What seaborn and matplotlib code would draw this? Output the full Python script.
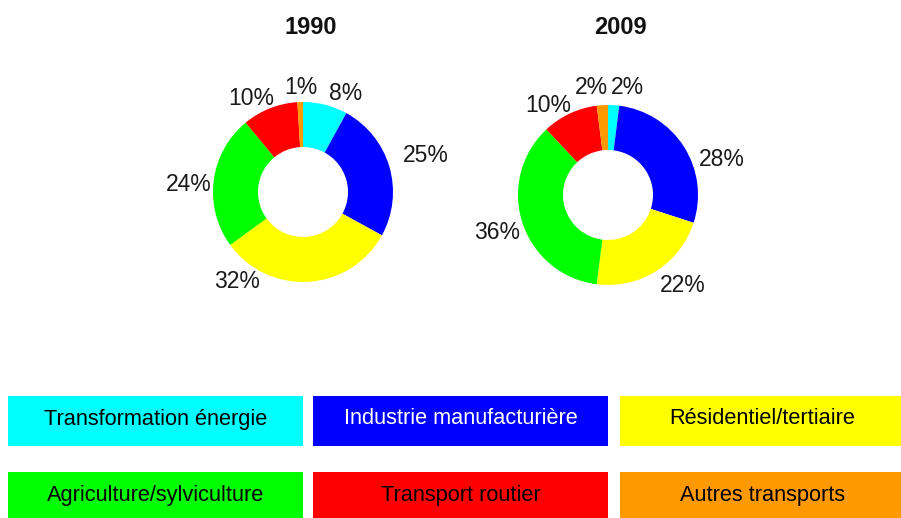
import seaborn as sns
import matplotlib
matplotlib.use("Agg")
from matplotlib import pyplot as plt
from matplotlib.patches import Rectangle

# data
sectors = ["Transformation énergie", "Industrie manufacturière", "Résidentiel/tertiaire",
           "Agriculture/sylviculture", "Transport routier", "Autres transports"]
colors = ["#00FFFF", "#0000FF", "#FFFF00", "#00FF00", "#FF0000", "#FF9900"]
text_colors = ["black", "white", "black", "black", "black", "black"]
years = ["1990", "2009"]
share_1990 = [8, 25, 32, 24, 10, 1]
share_2009 = [2, 28, 22, 36, 10, 2]

# label placement (in units of the donut radius), like the original best-fit labels
label_pos_1990 = [(0.47, 1.10), (1.36, 0.41), (-0.73, -1.00), (-1.27, 0.08), (-0.58, 1.04), (-0.02, 1.16)]
label_pos_2009 = [(0.22, 1.19), (1.27, 0.39), (0.83, -1.01), (-1.23, -0.42), (-0.66, 0.99), (-0.18, 1.19)]

sns.set_theme(style="white")
plt.rcParams["font.family"] = ["Liberation Sans", "DejaVu Sans"]

W, H = 901, 518
fig = plt.figure(figsize=(W / 100, H / 100), dpi=100)

# donut placement (pixels): centre x, centre y, radius; title offset
donuts = [(303, 192, 90, 0.09), (608, 195, 90, 0.14)]
lim = 1.6
for (cx, cy, r, tx), year, shares, lpos in zip(donuts, years, [share_1990, share_2009],
                                               [label_pos_1990, label_pos_2009]):
    half = lim * r
    ax = fig.add_axes([(cx - half) / W, (H - cy - half) / H, 2 * half / W, 2 * half / H])
    ax.pie(shares, colors=colors, startangle=90, counterclock=False, radius=1,
           wedgeprops=dict(width=0.5, linewidth=0))
    for v, (lx, ly) in zip(shares, lpos):
        ax.text(lx, ly, f"{v}%", ha="center", va="center", fontsize=16.5, color="#1a1a1a")
    ax.set_xlim(-lim, lim)
    ax.set_ylim(-lim, lim)
    ax.text(tx, (cy - 28) / r, year, ha="center", va="center", fontsize=17,
            fontweight="bold", color="#111111")
    ax.axis("off")

# legend boxes along the bottom
lax = fig.add_axes([0, 0, 1, 1])
lax.set_xlim(0, W)
lax.set_ylim(H, 0)
lax.axis("off")
cols = [(8, 303), (313, 608), (620, 905)]
rows = [(396, 446), (472, 522)]
for i, (name, c, tc) in enumerate(zip(sectors, colors, text_colors)):
    x0, x1 = cols[i % 3]
    y0, y1 = rows[i // 3]
    lax.add_patch(Rectangle((x0, y0), x1 - x0, y1 - y0, facecolor=c, edgecolor="none"))
    lax.text((x0 + x1) / 2, (y0 + y1) / 2 - 2, name, ha="center", va="center",
             fontsize=15.7, color=tc)

fig.savefig("out.png", dpi=100)
